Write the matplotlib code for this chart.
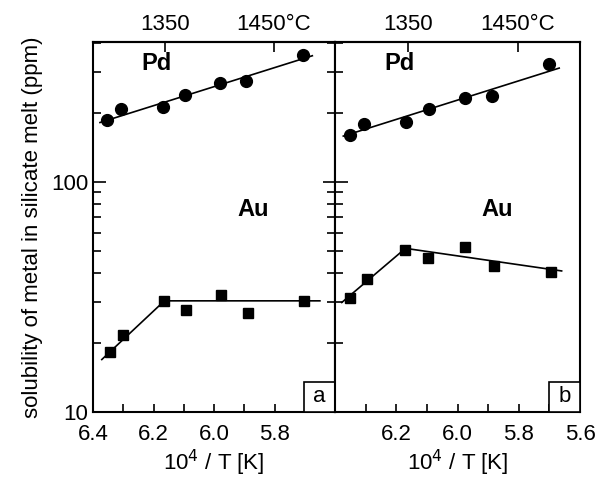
import numpy as np
import matplotlib
matplotlib.use("Agg")
import matplotlib.pyplot as plt
from matplotlib.ticker import FixedLocator, NullFormatter, MultipleLocator
from matplotlib.patches import Rectangle

plt.rcParams['font.family'] = ['Liberation Sans', 'DejaVu Sans']

# ---- data (10^4/T, ppm) ----
pd_a_x = [6.355, 6.306, 6.170, 6.096, 5.979, 5.893, 5.707]
pd_a_y = [185, 208, 211, 239, 269, 275, 357]
pd_a_fit_x = [6.377, 5.675]
pd_a_fit_y = [181, 353]

au_a_x = [6.344, 6.301, 6.164, 6.093, 5.976, 5.888, 5.702]
au_a_y = [18.3, 21.5, 30.4, 27.7, 32.1, 26.8, 30.4]
au_a_fit_x = [6.371, 6.164, 5.650]
au_a_fit_y = [16.9, 30.4, 30.4]

pd_b_x = [6.351, 6.305, 6.167, 6.094, 5.974, 5.888, 5.701]
pd_b_y = [160, 179, 182, 207, 231, 236, 326]
pd_b_fit_x = [6.373, 5.668]
pd_b_fit_y = [158, 312]

au_b_x = [6.351, 6.296, 6.170, 6.096, 5.974, 5.882, 5.695]
au_b_y = [31.2, 37.8, 50.6, 46.9, 52.3, 42.9, 40.5]
au_b_fit_x = [6.378, 6.170, 5.660]
au_b_fit_y = [29.9, 51.4, 41.0]

top_ticks = [1350, 1450]
top_labels = ["1350", "1450°C"]

fig = plt.figure(figsize=(5.99, 4.84), dpi=100)
axa = fig.add_axes([0.1553, 0.1488, 0.4040, 0.7644])
axb = fig.add_axes([0.5593, 0.1488, 0.4090, 0.7644], sharey=axa)

panels = [
    (axa, pd_a_x, pd_a_y, pd_a_fit_x, pd_a_fit_y, au_a_x, au_a_y, au_a_fit_x, au_a_fit_y, 'a'),
    (axb, pd_b_x, pd_b_y, pd_b_fit_x, pd_b_fit_y, au_b_x, au_b_y, au_b_fit_x, au_b_fit_y, 'b'),
]

tfs = 16
for ax, px, py, pfx, pfy, ax_, ay, afx, afy, lab in panels:
    ax.set_yscale('log')
    ax.set_ylim(10, 405)
    ax.set_xlim(6.4, 5.6)
    ax.plot(pfx, pfy, color='black', lw=1.2, zorder=2)
    ax.plot(afx, afy, color='black', lw=1.2, zorder=2)
    ax.plot(px, py, 'o', color='black', ms=8.5, zorder=3)
    ax.plot(ax_, ay, 's', color='black', ms=6.8, zorder=3)
    for s in ax.spines.values():
        s.set_linewidth(1.5)
    ax.xaxis.set_major_locator(FixedLocator([6.4, 6.2, 6.0, 5.8, 5.6]))
    ax.xaxis.set_minor_locator(MultipleLocator(0.1))
    ax.tick_params(axis='x', which='both', direction='in', top=False, labelsize=tfs, pad=9)
    ax.tick_params(axis='x', which='major', length=6, width=1.2)
    ax.tick_params(axis='x', which='minor', length=6, width=1.2)
    ax.tick_params(axis='y', which='major', direction='in', length=9, width=1.2, labelsize=tfs)
    ax.tick_params(axis='y', which='minor', direction='in', length=6, width=1.2)
    ax.text(6.19, 326, 'Pd', fontsize=17, fontweight='bold', ha='center', va='center')
    ax.text(5.872, 75.5, 'Au', fontsize=17, fontweight='bold', ha='center', va='center')
    ax.add_patch(Rectangle((0.872, 0.0), 0.128, 0.081, transform=ax.transAxes,
                           fc='white', ec='black', lw=1.2, zorder=4))
    ax.text(0.936, 0.042, lab, transform=ax.transAxes, fontsize=16, ha='center',
            va='center', zorder=5)
    ax.set_xlabel(r'10$^4$ / T [K]', fontsize=tfs, labelpad=2)
    sec = ax.secondary_xaxis('top', functions=(lambda x: 1e4 / np.asarray(x) - 273.15,
                                               lambda t: 1e4 / (np.asarray(t) + 273.15)))
    sec.set_xticks(top_ticks)
    sec.set_xticklabels(top_labels)
    sec.tick_params(direction='in', length=7, width=1.2, labelsize=tfs, pad=5)
    sec.xaxis.set_minor_locator(FixedLocator([]))
    sec.spines['top'].set_linewidth(1.5)

axa.set_yticks([10, 100])
axa.set_yticklabels(['10', '100'])
axa.yaxis.set_minor_formatter(NullFormatter())
axa.tick_params(axis='y', which='both', right=True)
axa.set_xticklabels(['6.4', '6.2', '6.0', '5.8', ''])
axb.set_xticklabels(['', '6.2', '6.0', '5.8', '5.6'])
axb.tick_params(axis='y', which='both', labelleft=False)
axa.set_ylabel('solubility of metal in silicate melt (ppm)', fontsize=16, labelpad=6)

fig.savefig('out.png', dpi=100)
